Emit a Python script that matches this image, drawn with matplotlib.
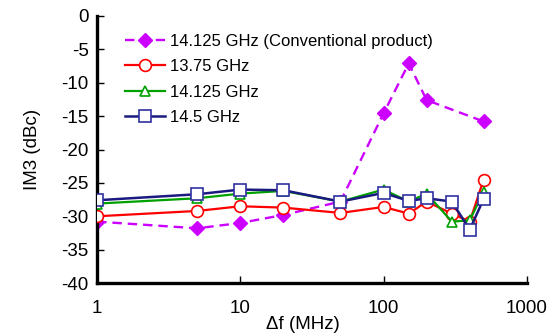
import matplotlib
matplotlib.use("Agg")
import matplotlib.pyplot as plt

plt.rcParams["font.family"] = ["Liberation Sans", "DejaVu Sans"]

# data
f_conv = [1, 5, 10, 20, 50, 100, 150, 200, 500]
im3_conv = [-30.8, -31.8, -31.0, -29.8, -27.8, -14.6, -7.1, -12.6, -15.8]

f_new = [1, 5, 10, 20, 50, 100, 150, 200, 300, 400, 500]
im3_1375 = [-30.0, -29.2, -28.5, -28.7, -29.5, -28.6, -29.6, -27.8, -29.6, -30.8, -24.5]
im3_14125 = [-28.1, -27.3, -26.6, -26.2, -27.8, -26.0, -27.8, -26.6, -30.8, -30.6, -26.3]
im3_145 = [-27.6, -26.7, -26.0, -26.1, -27.8, -26.5, -27.7, -27.3, -27.8, -32.0, -27.4]

labels = ["14.125 GHz (Conventional product)", "13.75 GHz", "14.125 GHz", "14.5 GHz"]
y_ticks = [0, -5, -10, -15, -20, -25, -30, -35, -40]
x_ticks = [1, 10, 100, 1000]

fig = plt.figure(figsize=(5.58, 3.33), dpi=100)
ax = fig.add_axes([0.174, 0.150, 0.770, 0.802])

ax.plot(f_conv, im3_conv, color="#CC00FF", lw=1.7, dashes=(4, 2.5), marker="D",
        ms=7.5, mfc="#CC00FF", mec="#CC00FF", label=labels[0], zorder=2)
ax.plot(f_new, im3_1375, color="#FF0000", lw=1.6, marker="o", ms=8.5,
        mfc="white", mec="#FF0000", mew=1.2, label=labels[1], zorder=3)
ax.plot(f_new, im3_14125, color="#00A000", lw=1.6, marker="^", ms=7,
        mfc="white", mec="#00A000", mew=1.2, label=labels[2], zorder=4)
ax.plot(f_new, im3_145, color="#1A1A80", lw=1.8, marker="s", ms=8.5,
        mfc="white", mec="#3030A0", mew=1.2, label=labels[3], zorder=5)

ax.set_xscale("log")
ax.set_xlim(1, 1000)
ax.set_ylim(-40, 0)
ax.set_xticks(x_ticks)
ax.set_xticklabels([str(v) for v in x_ticks])
ax.xaxis.set_minor_locator(matplotlib.ticker.NullLocator())
ax.set_yticks(y_ticks)
ax.set_yticklabels([str(v) for v in y_ticks])

for s in ["top", "right"]:
    ax.spines[s].set_visible(False)
for s in ["left", "bottom"]:
    ax.spines[s].set_linewidth(2.4)

ax.tick_params(direction="in", length=5, width=1, labelsize=13.5, pad=6)
ax.tick_params(axis="x", pad=12)

ax.set_ylabel("IM3 (dBc)", fontsize=13.5)
ax.yaxis.set_label_coords(-0.13, 0.5)
ax.set_xlabel("Δf (MHz)", fontsize=13.5)
ax.xaxis.set_label_coords(0.48, -0.125)

ax.legend(loc="upper left", bbox_to_anchor=(125 / 558, 1 - 34 / 333),
          bbox_transform=fig.transFigure, frameon=False, fontsize=12,
          handlelength=2.4, handletextpad=0.3, labelspacing=0.62, borderpad=0,
          borderaxespad=0)

fig.savefig("out.png", dpi=100)
